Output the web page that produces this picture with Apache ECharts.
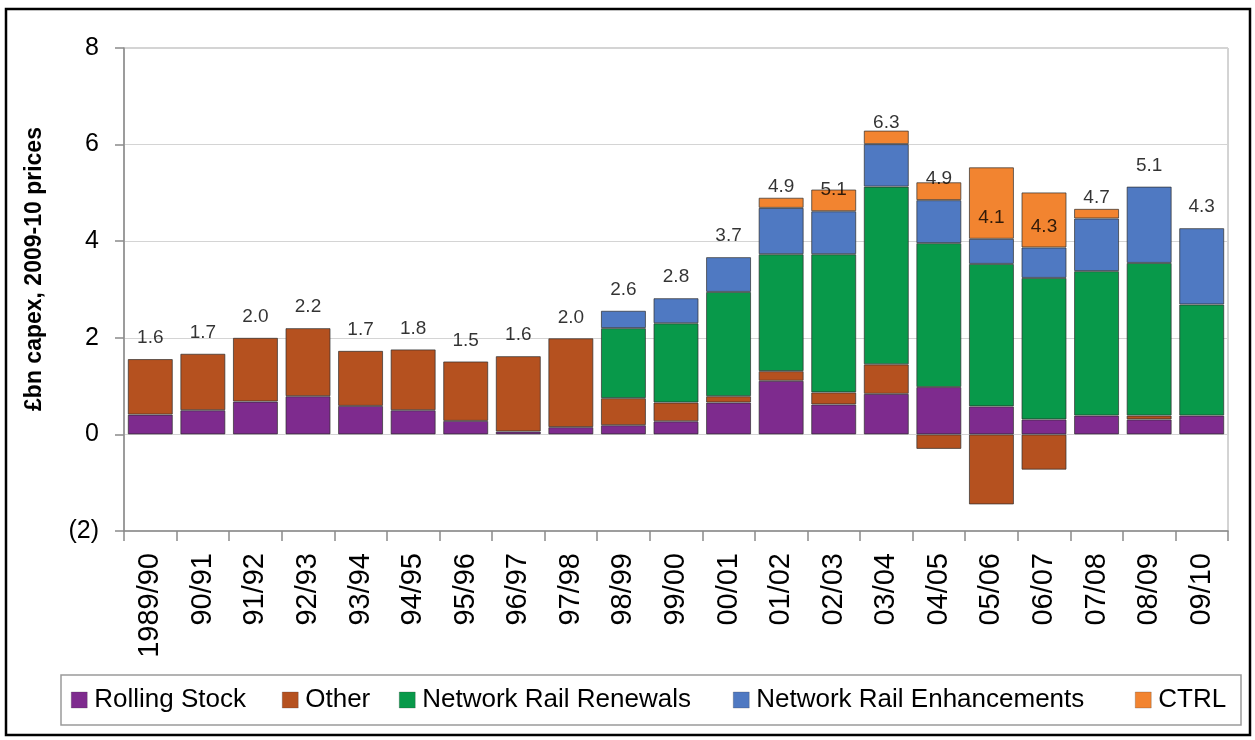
<!DOCTYPE html>
<html>
<head>
<meta charset="utf-8">
<script src="https://cdn.jsdelivr.net/npm/echarts@6/dist/echarts.min.js"></script>
<style>
html,body{margin:0;padding:0;background:#fff;}
#c{width:1255px;height:740px;}
</style>
</head>
<body>
<div id="c"></div>
<script>
const categories = ['1989/90','90/91','91/92','92/93','93/94','94/95','95/96','96/97','97/98','98/99','99/00','00/01','01/02','02/03','03/04','04/05','05/06','06/07','07/08','08/09','09/10'];
const rollingStock = [0.41,0.50,0.68,0.79,0.59,0.50,0.28,0.06,0.15,0.19,0.27,0.66,1.11,0.62,0.84,0.98,0.58,0.31,0.39,0.31,0.39];
const other        = [1.15,1.17,1.32,1.41,1.14,1.26,1.23,1.56,1.84,0.56,0.39,0.13,0.20,0.25,0.61,-0.30,-1.45,-0.73,null,0.08,null];
const renewals     = [null,null,null,null,null,null,null,null,null,1.45,1.64,2.16,2.42,2.86,3.68,2.98,2.95,2.93,2.99,3.16,2.30];
const enhancements = [null,null,null,null,null,null,null,null,null,0.36,0.52,0.72,0.96,0.89,0.88,0.89,0.52,0.63,1.09,1.58,1.58];
const ctrl         = [null,null,null,null,null,null,null,null,null,null,null,null,0.21,0.45,0.28,0.37,1.48,1.14,0.20,null,null];
const totals       = [1.6,1.7,2.0,2.2,1.7,1.8,1.5,1.6,2.0,2.6,2.8,3.7,4.9,5.1,6.3,4.9,4.1,4.3,4.7,5.1,4.3];
const yTicks = [-2,0,2,4,6,8];

const names = ['Rolling Stock','Other','Network Rail Renewals','Network Rail Enhancements','CTRL'];
const colors = ['#7E2B8E','#B5511F','#08994A','#4F79C2','#F28430'];
const seriesData = [rollingStock, other, renewals, enhancements, ctrl];

// label anchor: top of positive non-CTRL stack
const anchors = categories.map((c,i)=>{
  let s=0;[rollingStock,other,renewals,enhancements].forEach(a=>{const v=a[i]; if(v!=null&&v>0) s+=v;});
  return s;
});

const FONT = 'Liberation Sans, Arial, sans-serif';
const chart = echarts.init(document.getElementById('c'), null, {renderer:'canvas'});

const series = seriesData.map((d,k)=>({
  name: names[k], type:'bar', stack:'total', data:d,
  barWidth: 45,
  itemStyle:{color:colors[k], borderColor:'rgba(45,45,45,0.7)', borderWidth:1},
  emphasis:{disabled:true}
}));
series.push({
  type:'scatter', data: anchors.map((a,i)=>({value:a, label:{formatter: totals[i].toFixed(1)}})),
  symbolSize:1, itemStyle:{color:'rgba(0,0,0,0)'},
  label:{show:true, position:'top', distance:11, color:'#000', fontSize:19, fontFamily:FONT},
  silent:true, z:10
});

const legendX = [71,282,399,733,1135];
const legends = names.map((n,k)=>({
  data:[n], left:legendX[k], top:687, padding:0,
  itemWidth:16, itemHeight:16, icon:'rect',
  itemStyle:{borderColor:'rgba(60,60,60,0.5)', borderWidth:0.5},
  textStyle:{fontSize:26, color:'#000', fontFamily:FONT, padding:[0,0,0,2]},
  selectedMode:false
}));

chart.setOption({
  animation:false,
  backgroundColor:'#fff',
  textStyle:{fontFamily:FONT},
  grid:{left:124, right:27, top:48, bottom:209, show:true, borderColor:'#a8a8a8', borderWidth:1, backgroundColor:'transparent'},
  legend: legends,
  xAxis:{
    type:'category', data:categories,
    axisLine:{onZero:false, lineStyle:{color:'#8a8a8a', width:1.5}},
    axisTick:{show:true, length:10, lineStyle:{color:'#8a8a8a', width:1.5}},
    axisLabel:{rotate:90, fontSize:29, color:'#000', margin:22, fontFamily:FONT}
  },
  yAxis:{
    type:'value', min:yTicks[0], max:yTicks[yTicks.length-1], interval:2,
    axisLine:{show:true, lineStyle:{color:'#8a8a8a', width:1.5}},
    axisTick:{show:true, length:9, lineStyle:{color:'#8a8a8a', width:1.5}},
    splitLine:{show:true, lineStyle:{color:'#d4d4d4', width:1}},
    axisLabel:{fontSize:25, color:'#000', margin:25, fontFamily:FONT,
      formatter:v=> v<0 ? '('+(-v)+')' : String(v)}
  },
  graphic:[
    {type:'rect', shape:{x:6,y:9,width:1244,height:726}, style:{fill:null, stroke:'#000', lineWidth:2.5}, silent:true},
    {type:'rect', shape:{x:61,y:675,width:1180,height:50}, style:{fill:null, stroke:'#9a9a9a', lineWidth:1.5}, silent:true},
    {type:'text', x:35, y:269, rotation:Math.PI/2,
      style:{text:'£bn capex, 2009-10 prices', fontSize:23, fontWeight:'bold', fill:'#000', fontFamily:FONT, align:'center', verticalAlign:'middle'}, silent:true}
  ],
  series:series
});
</script>
</body>
</html>
